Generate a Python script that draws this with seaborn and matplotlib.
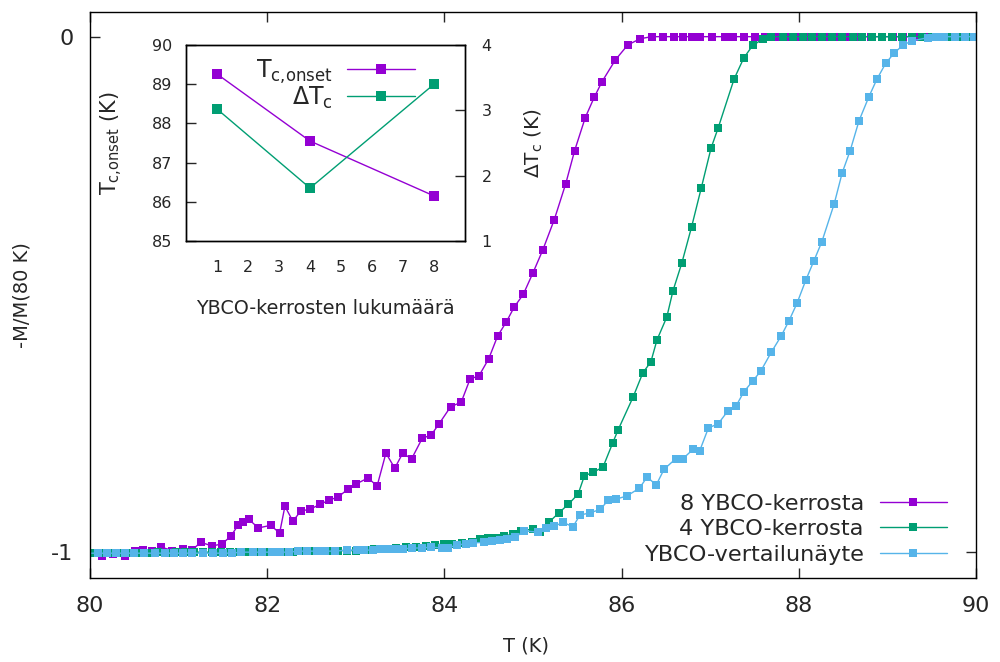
import matplotlib
matplotlib.use("Agg")
import matplotlib.pyplot as plt
import seaborn as sns
import pandas as pd

# ---------------- data ----------------
T8 = [80.13, 80.26, 80.40, 80.51, 80.60, 80.70, 80.80, 80.93, 81.05, 81.15, 81.25, 81.38, 81.49,
      81.59, 81.67, 81.73, 81.79, 81.90, 82.04, 82.14, 82.20, 82.29, 82.38, 82.48, 82.60, 82.70,
      82.80, 82.91, 83.00, 83.14, 83.24, 83.34, 83.44, 83.53, 83.63, 83.75, 83.85, 83.94, 84.07,
      84.19, 84.29, 84.39, 84.50, 84.60, 84.70, 84.79, 84.89, 85.00, 85.11, 85.24, 85.37, 85.47,
      85.59, 85.69, 85.78, 85.93, 86.07, 86.21, 86.34, 86.47, 86.59, 86.69, 86.79, 86.88, 87.02,
      87.17, 87.26, 87.38, 87.50, 87.62, 87.74, 87.86, 87.98, 88.10, 88.22, 88.34, 88.46, 88.58,
      88.70, 88.82, 88.94, 89.06, 89.18, 89.30, 89.42, 89.54, 89.66, 89.78, 89.90]
M8 = [-1.007, -1.004, -1.007, -0.998, -0.996, -0.998, -0.990, -0.997, -0.994, -0.996, -0.981, -0.988,
      -0.984, -0.969, -0.948, -0.942, -0.936, -0.953, -0.948, -0.963, -0.911, -0.940, -0.920, -0.917,
      -0.907, -0.899, -0.893, -0.878, -0.868, -0.856, -0.872, -0.808, -0.837, -0.808, -0.819, -0.779,
      -0.773, -0.751, -0.718, -0.709, -0.664, -0.658, -0.625, -0.581, -0.553, -0.524, -0.500, -0.458,
      -0.414, -0.355, -0.285, -0.221, -0.157, -0.118, -0.087, -0.045, -0.016, -0.004, 0.0, 0.0,
      0.0, 0.0, 0.0, 0.0, 0.0, 0.0, 0.0, 0.0, 0.0, 0.0, 0.0, 0.0, 0.0, 0.0, 0.0, 0.0, 0.0, 0.0,
      0.0, 0.0, 0.0, 0.0, 0.0, 0.0, 0.0, 0.0, 0.0, 0.0, 0.0]

T4 = [80.06, 80.16, 80.26, 80.36, 80.46, 80.56, 80.67, 80.77, 80.87, 80.97, 81.07, 81.17, 81.28,
      81.38, 81.48, 81.58, 81.68, 81.78, 81.88, 81.99, 82.09, 82.19, 82.29, 82.39, 82.49, 82.60,
      82.70, 82.80, 82.90, 83.00, 83.10, 83.21, 83.33, 83.45, 83.57, 83.68, 83.79, 83.89, 84.00,
      84.09, 84.20, 84.31, 84.40, 84.49, 84.58, 84.67, 84.77, 84.86, 85.00, 85.08, 85.18, 85.29,
      85.40, 85.51, 85.58, 85.68, 85.79, 85.90, 85.96, 86.13, 86.24, 86.33, 86.40, 86.51, 86.58,
      86.68, 86.79, 86.90, 87.01, 87.09, 87.27, 87.38, 87.48, 87.60, 87.69, 87.82, 87.93, 88.05,
      88.15, 88.26, 88.37, 88.49, 88.61, 88.71, 88.83, 88.94, 89.05, 89.16, 89.28, 89.39, 89.50,
      89.62, 89.73, 89.84, 89.95]
M4 = [-1.001, -1.001, -1.001, -1.001, -1.001, -1.001, -1.001, -1.000, -1.001, -1.000, -1.000, -1.000,
      -1.000, -1.000, -1.000, -1.000, -1.000, -1.000, -0.999, -0.999, -0.999, -0.999, -0.999, -0.998,
      -0.998, -0.998, -0.998, -0.997, -0.997, -0.997, -0.996, -0.994, -0.994, -0.992, -0.990, -0.990,
      -0.988, -0.986, -0.984, -0.984, -0.982, -0.981, -0.975, -0.973, -0.973, -0.969, -0.965, -0.959,
      -0.955, -0.961, -0.942, -0.924, -0.907, -0.887, -0.852, -0.845, -0.835, -0.788, -0.763, -0.699,
      -0.652, -0.631, -0.588, -0.544, -0.493, -0.439, -0.369, -0.293, -0.216, -0.177, -0.082, -0.041,
      -0.017, -0.004, 0.0, 0.0, 0.0, 0.0, 0.0, 0.0, 0.0, 0.0, 0.0, 0.0, 0.0, 0.0, 0.0, 0.0, 0.0,
      0.0, 0.0, 0.0, 0.0, 0.0, 0.0]

Tref = [79.95, 80.09, 80.19, 80.29, 80.40, 80.50, 80.61, 80.73, 80.85, 80.95, 81.05, 81.15, 81.28,
        81.39, 81.50, 81.60, 81.70, 81.84, 81.94, 82.05, 82.14, 82.25, 82.35, 82.45, 82.56, 82.65,
        82.77, 82.90, 83.01, 83.09, 83.19, 83.27, 83.36, 83.44, 83.53, 83.63, 83.75, 83.85, 83.97,
        84.04, 84.14, 84.24, 84.32, 84.45, 84.54, 84.63, 84.71, 84.80, 84.90, 85.06, 85.15, 85.24,
        85.34, 85.45, 85.53, 85.64, 85.76, 85.85, 85.94, 86.06, 86.20, 86.29, 86.39, 86.48, 86.61,
        86.69, 86.81, 86.88, 86.98, 87.09, 87.20, 87.29, 87.38, 87.48, 87.57, 87.69, 87.80, 87.89,
        87.98, 88.08, 88.17, 88.26, 88.40, 88.49, 88.58, 88.68, 88.79, 88.88, 88.98, 89.08, 89.18,
        89.28, 89.46, 89.55, 89.64, 89.76, 89.88, 89.98]
Mref = [-1.002, -1.002, -1.002, -1.002, -1.002, -1.002, -1.002, -1.002, -1.002, -1.002, -1.002,
        -1.002, -1.002, -1.002, -1.002, -1.002, -1.000, -1.000, -1.000, -1.000, -1.000, -1.000,
        -0.998, -0.998, -0.998, -0.998, -0.998, -0.996, -0.996, -0.996, -0.996, -0.994, -0.994,
        -0.994, -0.994, -0.992, -0.992, -0.990, -0.992, -0.992, -0.986, -0.984, -0.982, -0.981,
        -0.979, -0.977, -0.975, -0.971, -0.959, -0.961, -0.953, -0.950, -0.942, -0.951, -0.928,
        -0.924, -0.917, -0.899, -0.897, -0.891, -0.876, -0.854, -0.870, -0.839, -0.819, -0.819,
        -0.800, -0.804, -0.759, -0.751, -0.726, -0.717, -0.689, -0.668, -0.649, -0.612, -0.581,
        -0.551, -0.517, -0.472, -0.435, -0.398, -0.324, -0.264, -0.221, -0.163, -0.117, -0.083,
        -0.052, -0.031, -0.016, -0.008, -0.002, 0.0, 0.0, 0.0, 0.0, 0.0]

series_labels = ["8 YBCO-kerrosta", "4 YBCO-kerrosta", "YBCO-vertailunäyte"]
colors = ["#9400D3", "#009E73", "#56B4E9"]

layers = [1, 4, 8]
Tc_onset = [89.26, 87.55, 86.15]
dTc = [3.02, 1.81, 3.40]

xticks_main = [80, 82, 84, 86, 88, 90]
yticks_main = [-1, 0]
xticks_in = [1, 2, 3, 4, 5, 6, 7, 8]
yticks_in_left = [85, 86, 87, 88, 89, 90]
yticks_in_right = [1, 2, 3, 4]

# ---------------- style ----------------
sns.set_style("white")
plt.rcParams["font.family"] = ["DejaVu Sans"]
plt.rcParams["mathtext.default"] = "regular"
plt.rcParams["axes.edgecolor"] = "black"
plt.rcParams["axes.linewidth"] = 1.0

fig = plt.figure(figsize=(10.0, 6.62), dpi=100)
ax = fig.add_axes([0.090, 0.127, 0.886, 0.855])

frames = [
    pd.DataFrame({"T": T8, "M": M8}),
    pd.DataFrame({"T": T4, "M": M4}),
    pd.DataFrame({"T": Tref, "M": Mref}),
]
for df, lab, col in zip(frames, series_labels, colors):
    sns.lineplot(data=df, x="T", y="M", ax=ax, color=col, linewidth=1.0, marker="s",
                 markersize=5.5, markeredgewidth=0, sort=False, label=lab, estimator=None)

ax.set_xlim(80, 90)
ax.set_ylim(-1.05, 0.048)
ax.set_xticks(xticks_main)
ax.set_yticks(yticks_main)
ax.set_yticklabels([str(v) for v in yticks_main])
ax.tick_params(direction="in", length=7, width=1, labelsize=16, pad=13,
               top=True, right=True, bottom=True, left=True)
ax.tick_params(axis="y", pad=12)
ax.set_xlabel("T (K)", fontsize=14, labelpad=14)
ax.xaxis.set_label_coords(0.492, -0.104)
ax.set_ylabel("-M/M(80 K)", fontsize=14, labelpad=14)
for s in ax.spines.values():
    s.set_color("black")
    s.set_linewidth(1.0)

leg = ax.legend(loc="lower right", bbox_to_anchor=(0.947, 0.147),
                bbox_transform=fig.transFigure, frameon=False, markerfirst=False,
                fontsize=16.2, handlelength=3.0, handletextpad=0.7, labelspacing=0.24,
                borderpad=0, borderaxespad=0)

# ---------------- inset ----------------
axi = fig.add_axes([0.186, 0.636, 0.279, 0.296])
sns.lineplot(x=layers, y=Tc_onset, ax=axi, color=colors[0], linewidth=1.0, marker="s",
             markersize=6.5, markeredgewidth=0, label=r"T$_\text{c,onset}$", legend=False)
axi.set_xlim(0, 9)
axi.set_ylim(85, 90)
axi.set_xticks(xticks_in)
axi.set_yticks(yticks_in_left)
axi.tick_params(direction="in", length=7, width=1, labelsize=11.5, top=False, right=False)
axi.tick_params(axis="x", pad=14)
axi.tick_params(axis="y", pad=10)
axi.set_xlabel("YBCO-kerrosten lukumäärä", fontsize=13.8, labelpad=17)
axi.set_ylabel(r"T$_\text{c,onset}$ (K)", fontsize=15, labelpad=19)

axr = axi.twinx()
sns.lineplot(x=layers, y=dTc, ax=axr, color=colors[1], linewidth=1.0, marker="s",
             markersize=6.5, markeredgewidth=0, label="ΔT$_{c}$", legend=False)
axr.set_ylim(1, 4)
axr.set_yticks(yticks_in_right)
axr.tick_params(direction="in", length=7, width=1, labelsize=11.5, pad=12)
axr.set_ylabel("ΔT$_{c}$ (K)", fontsize=14.5, labelpad=22)
for a in (axi, axr):
    for s in a.spines.values():
        s.set_color("black")
        s.set_linewidth(1.0)

h1, l1 = axi.get_legend_handles_labels()
h2, l2 = axr.get_legend_handles_labels()
axr.legend(h1 + h2, l1 + l2, loc="upper right", bbox_to_anchor=(0.415, 0.913),
           bbox_transform=fig.transFigure, frameon=False, markerfirst=False,
           fontsize=17, handlelength=2.9, handletextpad=0.6, labelspacing=-0.05,
           borderpad=0, borderaxespad=0)

fig.savefig("out.png", dpi=100)
